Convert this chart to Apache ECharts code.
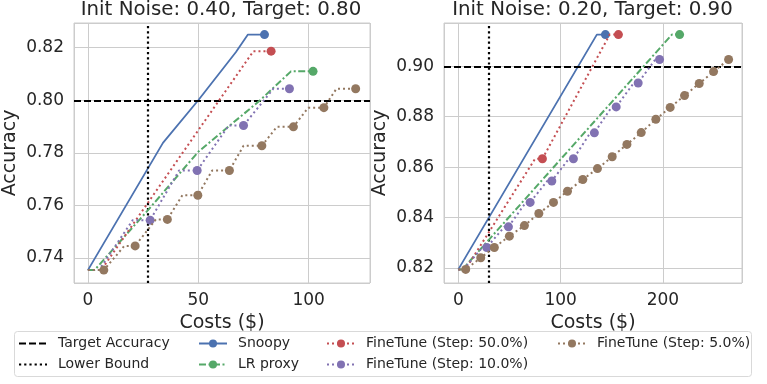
<!DOCTYPE html>
<html>
<head>
<meta charset="utf-8">
<script src="https://cdn.jsdelivr.net/npm/echarts@6/dist/echarts.min.js"></script>
<style>
  html, body { margin: 0; padding: 0; background: #fff; }
  #chart { width: 767px; height: 384px; }
</style>
</head>
<body>
<div id="chart"></div>
<script>
// panel titles, reference lines
var titles = ['Init Noise: 0.40, Target: 0.80', 'Init Noise: 0.20, Target: 0.90'];
var targetAcc = [0.80, 0.90];
var lowerBound = [27, 30];

var methods = ['Snoopy', 'LR proxy', 'FineTune (Step: 50.0%)', 'FineTune (Step: 10.0%)', 'FineTune (Step: 5.0%)'];

// left panel: [cost, accuracy] paths, and costs where a point is marked
var snoopyL = [[0, 0.7354], [34, 0.7838], [50, 0.800], [67, 0.8183], [72.5, 0.825], [80, 0.825]];
var snoopyLMarks = [80];
var lrL = [[0, 0.7354], [3, 0.7354], [27, 0.758], [50, 0.7804], [78, 0.800], [92, 0.811], [102, 0.811]];
var lrLMarks = [102];
var ft50L = [[0, 0.7354], [6, 0.7354], [50, 0.7886], [75, 0.8187], [83, 0.8187]];
var ft50LMarks = [83];
var ft10L = [[0, 0.7354], [5, 0.7354], [20.3, 0.7544], [28.2, 0.7544], [41.3, 0.7733], [49.5, 0.7733],
  [63.8, 0.7904], [70.5, 0.7904], [84, 0.8044], [91.3, 0.8044]];
var ft10LMarks = [28.2, 49.5, 70.5, 91.3];
var ft5L = [[0, 0.7354], [7.2, 0.7354], [16.5, 0.7446], [21.4, 0.7446], [30.8, 0.7547], [36, 0.7547],
  [42.8, 0.7639], [49.8, 0.7639], [56.3, 0.7733], [64.1, 0.7733], [70.5, 0.7827], [78.8, 0.7827],
  [85.6, 0.7899], [93.1, 0.7899], [99.8, 0.7972], [106.9, 0.7972], [112.6, 0.8044], [121.3, 0.8044]];
var ft5LMarks = [7.2, 21.4, 36, 49.8, 64.1, 78.8, 93.1, 106.9, 121.3];

// right panel
var snoopyR = [[0, 0.8194], [135.4, 0.9126], [143.8, 0.9126]];
var snoopyRMarks = [143.8];
var lrR = [[0, 0.8194], [4, 0.8194], [208.8, 0.9126], [216.3, 0.9126]];
var lrRMarks = [216.3];
var ft50R = [[0, 0.8194], [7, 0.8194], [75, 0.8633], [82.2, 0.8633], [148, 0.9126], [156.5, 0.9126]];
var ft50RMarks = [82.2, 156.5];
var ft10R = [[0, 0.8194], [5, 0.8194], [23.5, 0.8281], [27.8, 0.8281], [45, 0.8363], [49, 0.8363],
  [66, 0.846], [70.2, 0.846], [87, 0.8545], [91.4, 0.8545], [108, 0.8633], [112.5, 0.8633],
  [129, 0.8736], [133, 0.8736], [150, 0.8839], [154.3, 0.8839], [171.5, 0.8934], [175.8, 0.8934],
  [192.5, 0.9027], [196.7, 0.9027]];
var ft10RMarks = [27.8, 49, 70.2, 91.4, 112.5, 133, 154.3, 175.8, 196.7];
var ft5R = [[0, 0.8194], [7.2, 0.8194], [21.9, 0.824], [35.2, 0.8281], [49.9, 0.8326], [64.6, 0.8368],
  [78.7, 0.8416], [93, 0.846], [106.7, 0.8504], [121.7, 0.8551], [136, 0.8594], [150.4, 0.8641],
  [164.8, 0.869], [178.8, 0.8737], [193.1, 0.879], [207.1, 0.8837], [221.1, 0.8884], [235.5, 0.8932],
  [249.5, 0.8979], [264.2, 0.9027]];
var ft5RMarks = ft5R.slice(1).map(function (p) { return p[0]; });

var panels = [
  [[snoopyL, snoopyLMarks], [lrL, lrLMarks], [ft50L, ft50LMarks], [ft10L, ft10LMarks], [ft5L, ft5LMarks]],
  [[snoopyR, snoopyRMarks], [lrR, lrRMarks], [ft50R, ft50RMarks], [ft10R, ft10RMarks], [ft5R, ft5RMarks]]
];

// seaborn "deep" colours and matplotlib-like line styles
var colors = ['#4C72B0', '#55A868', '#C44E52', '#8172B2', '#937860'];
var lineTypes = ['solid', [7, 2.5, 2, 2.5], [2, 3], [2, 3], [2, 3]];
var txt = '#262626';
var font = 'DejaVu Sans';

var chart = echarts.init(document.getElementById('chart'), null, { renderer: 'canvas' });

function toData(points, marks) {
  return points.map(function (p) {
    return { value: p, symbol: marks.indexOf(p[0]) >= 0 ? 'circle' : 'none' };
  });
}

var series = [];
[0, 1].forEach(function (k) {
  series.push({
    name: 'Target Accuracy', type: 'line', xAxisIndex: k, yAxisIndex: k, data: [],
    symbol: 'none', itemStyle: { color: '#000' }, lineStyle: { color: '#000', width: 2.2, type: [7, 3] },
    markLine: {
      silent: true, symbol: 'none', label: { show: false }, animation: false,
      lineStyle: { color: '#000', width: 2.2, type: [7, 3] },
      data: [{ yAxis: targetAcc[k] }]
    }, z: 3
  });
  series.push({
    name: 'Lower Bound', type: 'line', xAxisIndex: k, yAxisIndex: k, data: [],
    symbol: 'none', itemStyle: { color: '#000' }, lineStyle: { color: '#000', width: 2.2, type: [2.2, 3] },
    markLine: {
      silent: true, symbol: 'none', label: { show: false }, animation: false,
      lineStyle: { color: '#000', width: 2.2, type: [2.2, 3] },
      data: [{ xAxis: lowerBound[k] }]
    }, z: 3
  });
  panels[k].forEach(function (item, i) {
    series.push({
      name: methods[i], type: 'line', xAxisIndex: k, yAxisIndex: k,
      data: toData(item[0], item[1]),
      symbol: 'circle', symbolSize: 9, showAllSymbol: true,
      lineStyle: { color: colors[i], width: i === 0 ? 1.8 : 2, type: lineTypes[i] },
      itemStyle: { color: colors[i] },
      z: 4 + i
    });
  });
});

var grids = [
  { left: 73, top: 23, width: 297, height: 260 },
  { left: 444, top: 23, width: 298, height: 260 }
];
var xRanges = [[-6.3, 127.8], [-14, 277.3]];
var yRanges = [[0.7305, 0.8294], [0.814, 0.9172]];

function legendCol(names, left) {
  return {
    data: names.map(function (n) {
      var plain = n === 'Target Accuracy' || n === 'Lower Bound';
      return plain ? { name: n, itemStyle: { opacity: 0 } } : n;
    }),
    orient: 'vertical', left: left, top: 331.5,
    itemWidth: 28, itemHeight: 10, itemGap: 7, selectedMode: false,
    textStyle: { color: txt, fontSize: 14, fontFamily: font, padding: [0, 0, 0, 6] }
  };
}

chart.setOption({
  animation: false,
  backgroundColor: '#fff',
  title: titles.map(function (t, k) {
    return {
      text: t, left: grids[k].left + grids[k].width / 2 - 5.5, textAlign: 'center', top: -5,
      textStyle: { color: txt, fontSize: 19.8, fontWeight: 'normal', fontFamily: font }
    };
  }),
  grid: grids.map(function (g) {
    return Object.assign({ show: true, borderColor: '#cccccc', borderWidth: 1, containLabel: false }, g);
  }),
  xAxis: [0, 1].map(function (k) {
    return {
      type: 'value', gridIndex: k, min: xRanges[k][0], max: xRanges[k][1], splitNumber: 3,
      name: 'Costs ($)', nameLocation: 'middle', nameGap: 26,
      nameTextStyle: { color: txt, fontSize: 19, fontFamily: font },
      axisLine: { show: false }, axisTick: { show: false },
      axisLabel: { color: txt, fontSize: 17, fontFamily: font, margin: 9, showMinLabel: false, showMaxLabel: false },
      splitLine: { lineStyle: { color: '#cccccc', width: 1 } }
    };
  }),
  yAxis: [0, 1].map(function (k) {
    return {
      type: 'value', gridIndex: k, min: yRanges[k][0], max: yRanges[k][1], splitNumber: 5,
      name: 'Accuracy', nameLocation: 'middle', nameGap: 54,
      nameTextStyle: { color: txt, fontSize: 19, fontFamily: font },
      axisLine: { show: false }, axisTick: { show: false },
      axisLabel: {
        color: txt, fontSize: 17, fontFamily: font, margin: 10, showMinLabel: false, showMaxLabel: false,
        formatter: function (v) { return v.toFixed(2); }
      },
      splitLine: { lineStyle: { color: '#cccccc', width: 1 } }
    };
  }),
  legend: [
    legendCol(['Target Accuracy', 'Lower Bound'], 13),
    legendCol(['Snoopy', 'LR proxy'], 193),
    legendCol(['FineTune (Step: 50.0%)', 'FineTune (Step: 10.0%)'], 321),
    legendCol(['FineTune (Step: 5.0%)'], 552)
  ],
  graphic: [{
    type: 'rect', z: -1, silent: true,
    shape: { x: 14.5, y: 331.5, width: 737, height: 45, r: 3 },
    style: { fill: '#fff', stroke: '#d9d9d9', lineWidth: 1 }
  }],
  series: series
});
</script>
</body>
</html>
